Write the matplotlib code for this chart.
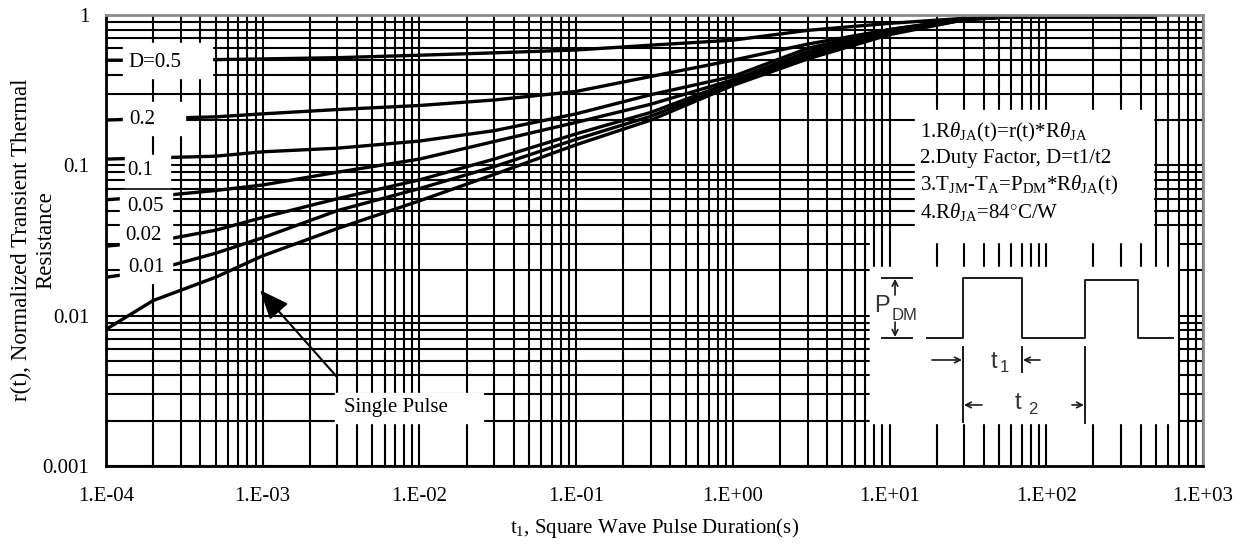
import matplotlib.pyplot as plt
import numpy as np
from matplotlib.ticker import LogLocator, FuncFormatter, NullFormatter
from matplotlib.patches import Rectangle

plt.rcParams['font.family'] = ['Liberation Serif', 'DejaVu Serif']
plt.rcParams['mathtext.fontset'] = 'custom'
plt.rcParams['mathtext.rm'] = 'Liberation Serif'
plt.rcParams['mathtext.it'] = 'Liberation Serif:italic'

# pulse duration (s)
t = [1e-4, 2e-4, 5e-4, 1e-3, 3e-3, 1e-2, 3e-2, 1e-1, 3e-1, 1, 3, 10, 30, 60, 500]

# normalized transient thermal resistance for each duty cycle
r_d05 = [0.50, 0.50, 0.505, 0.51, 0.52, 0.54, 0.56, 0.585, 0.63, 0.68, 0.79, 0.88, 0.95, 0.975, 0.975]
r_d02 = [0.20, 0.205, 0.21, 0.22, 0.235, 0.25, 0.272, 0.31, 0.39, 0.50, 0.64, 0.80, 0.94, 0.975, 0.975]
r_d01 = [0.11, 0.112, 0.115, 0.123, 0.13, 0.145, 0.17, 0.22, 0.295, 0.39, 0.60, 0.80, 0.94, 0.975, 0.975]
r_d005 = [0.059, 0.062, 0.068, 0.074, 0.09, 0.11, 0.144, 0.193, 0.255, 0.37, 0.57, 0.78, 0.94, 0.975, 0.975]
r_d002 = [0.029, 0.031, 0.037, 0.045, 0.06, 0.08, 0.11, 0.162, 0.225, 0.36, 0.55, 0.77, 0.93, 0.975, 0.975]
r_d001 = [0.018, 0.020, 0.026, 0.033, 0.05, 0.07, 0.098, 0.149, 0.212, 0.35, 0.53, 0.76, 0.93, 0.975, 0.975]
r_single = [0.0081, 0.0126, 0.018, 0.025, 0.038, 0.058, 0.087, 0.137, 0.20, 0.34, 0.51, 0.74, 0.93, 0.975, 0.975]

curves = [r_d05, r_d02, r_d01, r_d005, r_d002, r_d001, r_single]

notes = [r'1.R$\theta_{\rm JA}$(t)=r(t)*R$\theta_{\rm JA}$',
         '2.Duty Factor, D=t1/t2',
         r'3.T$_{\rm JM}$-T$_{\rm A}$=P$_{\rm DM}$*R$\theta_{\rm JA}$(t)',
         r'4.R$\theta_{\rm JA}$=84$^{\circ}$C/W']

fig = plt.figure(figsize=(12.38, 5.45), dpi=100)
ax = fig.add_axes([0.0856, 0.145, 0.8861, 0.8275])

for r in curves:
    ax.plot(t, r, color='black', lw=2.4, zorder=2, solid_capstyle='butt')

ax.set_xscale('log')
ax.set_yscale('log')
ax.set_xlim(1e-4, 1e3)
ax.set_ylim(1e-3, 1)
ax.xaxis.set_major_locator(LogLocator(base=10, numticks=20))
ax.xaxis.set_minor_locator(LogLocator(base=10, subs=np.arange(2, 10), numticks=20))
ax.yaxis.set_major_locator(LogLocator(base=10, numticks=20))
ax.yaxis.set_minor_locator(LogLocator(base=10, subs=np.arange(2, 10), numticks=20))
ax.xaxis.set_major_formatter(FuncFormatter(lambda v, p: '1.E%+03d' % round(np.log10(v))))
ax.yaxis.set_major_formatter(FuncFormatter(lambda v, p: '%g' % v))
ax.xaxis.set_minor_formatter(NullFormatter())
ax.yaxis.set_minor_formatter(NullFormatter())
ax.grid(True, which='both', color='black', lw=1.5)
ax.set_axisbelow(True)
ax.xaxis.set_zorder(1.5)
ax.tick_params(which='both', length=0, labelsize=15)
ax.tick_params(axis='x', pad=15)
ax.tick_params(axis='y', pad=12)

for s in ['left', 'bottom']:
    ax.spines[s].set_color('black')
    ax.spines[s].set_linewidth(2)
for s in ['top', 'right']:
    ax.spines[s].set_color('#8c8c8c')
    ax.spines[s].set_linewidth(2)

ax.set_xlabel('t$_1$, Square Wave Pulse Duration(s)', fontsize=15, labelpad=7)
fig.text(0.027, 0.56, 'r(t), Normalized Transient Thermal\nResistance', rotation=90,
         ha='center', va='center', multialignment='center', fontsize=16.5, linespacing=1.2)

# white label boxes on the left
for x0, y0, w, h in [(0.0155, 0.8603, 0.0811, 0.0776), (0.0155, 0.7339, 0.0565, 0.0732),
                     (0.0173, 0.6186, 0.0410, 0.0710), (0.0128, 0.4058, 0.0474, 0.2062)]:
    ax.add_patch(Rectangle((x0, y0), w, h, transform=ax.transAxes, color='white', zorder=3))
labels = ['D=0.5', '0.2', '0.1', '0.05', '0.02', '0.01']
label_pos = [(0.0447, 0.8936), (0.0328, 0.7672), (0.0310, 0.6541), (0.0356, 0.5743), (0.0337, 0.5100), (0.0365, 0.4390)]
for lab, (x, y) in zip(labels, label_pos):
    ax.text(x, y, lab, transform=ax.transAxes, ha='center', va='center', fontsize=15, zorder=4)

# single pulse label
ax.add_patch(Rectangle((0.2088, 0.0953), 0.1349, 0.0666, transform=ax.transAxes, color='white', zorder=3))
ax.text(0.2644, 0.1286, 'Single Pulse', transform=ax.transAxes, ha='center', va='center', fontsize=15, zorder=4)
ax.annotate('', xy=(0.1404, 0.390), xytext=(0.2106, 0.1973), xycoords='axes fraction', zorder=4,
            arrowprops=dict(arrowstyle='-|>,head_length=1.2,head_width=0.5', mutation_scale=15,
                            color='black', lw=1.5, shrinkA=0, shrinkB=0))

# notes box
ax.add_patch(Rectangle((0.7375, 0.4967), 0.2169, 0.2927, transform=ax.transAxes, color='white', zorder=3))
for line, y in zip(notes, [0.7273, 0.6718, 0.6098, 0.5499]):
    ax.text(0.7420, y, line, transform=ax.transAxes, ha='left', va='baseline', fontsize=15, zorder=4)

# pulse diagram
ax.add_patch(Rectangle((0.6965, 0.0), 0.2798, 0.5144, transform=ax.transAxes, color='white', zorder=1))
ax.add_patch(Rectangle((0.6965, 0.0953), 0.2745, 0.3459, transform=ax.transAxes, color='white', zorder=3))
b, h1, h2 = 0.2838, 0.4169, 0.4124
kw = dict(transform=ax.transAxes, color='#1a1a1a', lw=1.4, zorder=4, clip_on=False)
ax.plot([0.7484, 0.7812, 0.7812, 0.8350, 0.8350, 0.8924, 0.8924, 0.9407, 0.9407, 0.9727],
        [b, b, h1, h1, b, b, h2, h2, b, b], **kw)
ax.plot([0.7074, 0.7347], [h1, h1], **kw)
ax.plot([0.7074, 0.7347], [b, b], **kw)
ax.plot([0.7812, 0.7812], [0.2639, 0.0976], **kw)
ax.plot([0.8350, 0.8350], [0.2639, 0.2084], **kw)
ax.plot([0.8924, 0.8924], [0.2639, 0.0953], **kw)
akw = dict(arrowstyle='->', lw=1.2, color='#1a1a1a', shrinkA=0, shrinkB=0, mutation_scale=10)
for tail, head in [((0.7193, 0.379), (0.7193, 0.415)), ((0.7193, 0.319), (0.7193, 0.286)),
                   ((0.7530, 0.2350), (0.7803, 0.2350)), ((0.8514, 0.2350), (0.8359, 0.2350)),
                   ((0.7985, 0.1353), (0.7821, 0.1353)), ((0.8806, 0.1353), (0.8915, 0.1353))]:
    ax.annotate('', xy=head, xytext=tail, xycoords='axes fraction', zorder=5, arrowprops=akw)
sans = ['Liberation Sans', 'DejaVu Sans']
ax.text(0.7074, 0.3548, 'P', transform=ax.transAxes, ha='center', va='center', fontsize=17, family=sans, color='#333333', zorder=5)
ax.text(0.7284, 0.3326, 'DM', transform=ax.transAxes, ha='center', va='center', fontsize=12, family=sans, color='#333333', zorder=5)
ax.text(0.8095, 0.2306, 't', transform=ax.transAxes, ha='center', va='center', fontsize=17, family=sans, color='#333333', zorder=5)
ax.text(0.8186, 0.2173, '1', transform=ax.transAxes, ha='center', va='center', fontsize=12, family=sans, color='#333333', zorder=5)
ax.text(0.8313, 0.1397, 't', transform=ax.transAxes, ha='center', va='center', fontsize=17, family=sans, color='#333333', zorder=5)
ax.text(0.8450, 0.1242, '2', transform=ax.transAxes, ha='center', va='center', fontsize=12, family=sans, color='#333333', zorder=5)

fig.savefig('out.png', dpi=100)
